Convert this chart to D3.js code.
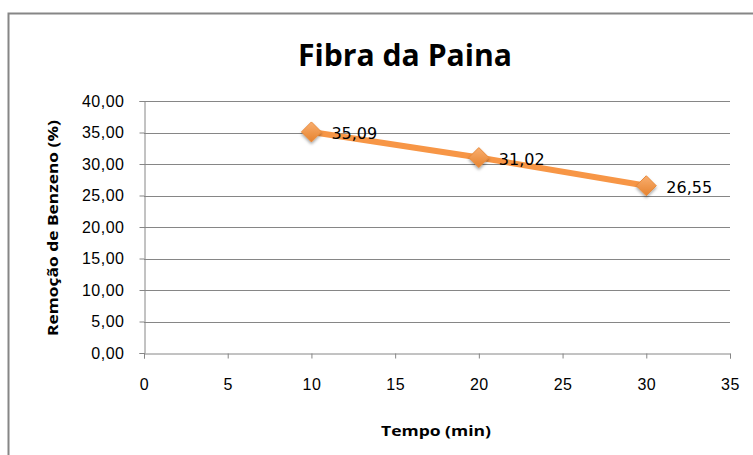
<!DOCTYPE html>
<html>
<head>
<meta charset="utf-8">
<script src="https://cdn.jsdelivr.net/npm/d3@7"></script>
<style>
  body { margin: 0; background: #fff; }
  svg { display: block; font-family: "DejaVu Sans", "Open Sans", sans-serif; }
</style>
</head>
<body>
<svg id="chart" width="753" height="455"></svg>
<script>
const tempo = [10, 20, 30];
const remocao = [35.09, 31.02, 26.55];
const xTicks = [0, 5, 10, 15, 20, 25, 30, 35];
const yTicks = [0, 5, 10, 15, 20, 25, 30, 35, 40];

const svg = d3.select('#chart');
const fmt = v => d3.format('.2f')(v).replace('.', ',');

// chart frame
svg.append('rect')
  .attr('x', 8.5).attr('y', 13.5)
  .attr('width', 760).attr('height', 460)
  .attr('fill', '#fff').attr('stroke', '#868686').attr('stroke-width', 2);

const x = d3.scaleLinear().domain([0, 35]).range([144, 730]);
const y = d3.scaleLinear().domain([0, 40]).range([353, 101]);

// gridlines
svg.append('g').selectAll('line')
  .data(yTicks.filter(d => d > 0))
  .join('line')
  .attr('x1', x(0)).attr('x2', x(35))
  .attr('y1', d => Math.round(y(d)) + 0.5).attr('y2', d => Math.round(y(d)) + 0.5)
  .attr('stroke', '#868686').attr('stroke-width', 1);

const yAxis = svg.append('g')
  .attr('transform', `translate(${x(0) + 0.5},0)`)
  .call(d3.axisLeft(y).tickValues(yTicks).tickFormat(fmt).tickSize(5).tickPadding(15));

const xAxis = svg.append('g')
  .attr('transform', `translate(0,${Math.round(y(0)) + 0.5})`)
  .call(d3.axisBottom(x).tickValues(xTicks).tickSize(5).tickPadding(20));

[yAxis, xAxis].forEach(a => {
  a.select('.domain').attr('stroke', '#868686');
  a.selectAll('.tick line').attr('stroke', '#868686');
  a.selectAll('.tick text').attr('fill', '#000')
    .style('font-size', '16px').style('letter-spacing', '0.5px');
});

// line
const pts = tempo.map((t, i) => [t, remocao[i]]);
svg.append('path')
  .datum(pts)
  .attr('fill', 'none')
  .attr('stroke', '#F79646')
  .attr('stroke-width', 6)
  .attr('d', d3.line().x(d => x(d[0])).y(d => y(d[1])));

// diamond markers
const defs = svg.append('defs');
const grad = defs.append('linearGradient').attr('id', 'mk')
  .attr('x1', 0).attr('y1', 0).attr('x2', 0).attr('y2', 1);
grad.append('stop').attr('offset', '0%').attr('stop-color', '#F9AE6F');
grad.append('stop').attr('offset', '100%').attr('stop-color', '#E6832F');
const shadow = defs.append('filter').attr('id', 'sh')
  .attr('x', '-50%').attr('y', '-50%').attr('width', '200%').attr('height', '200%');
shadow.append('feDropShadow').attr('dx', 0).attr('dy', 2).attr('stdDeviation', 1.5)
  .attr('flood-color', '#000').attr('flood-opacity', 0.35);

svg.append('g').selectAll('path')
  .data(pts)
  .join('path')
  .attr('transform', d => `translate(${x(d[0])},${y(d[1])})`)
  .attr('d', 'M0,-10L10,0L0,10L-10,0Z')
  .attr('fill', 'url(#mk)')
  .attr('filter', 'url(#sh)')
  .attr('stroke', '#E98A3A').attr('stroke-width', 1);

// data labels
svg.append('g').selectAll('text')
  .data(pts)
  .join('text')
  .attr('x', d => x(d[0]) + 20)
  .attr('y', d => y(d[1]) + 7)
  .style('font-size', '16px')
  .attr('fill', '#000')
  .text(d => fmt(d[1]));

// titles
svg.append('text')
  .attr('x', 405).attr('y', 66)
  .attr('text-anchor', 'middle')
  .style('font-family', '"Open Sans", sans-serif')
  .style('font-size', '30px').style('font-weight', 'bold')
  .attr('textLength', 214).attr('lengthAdjust', 'spacingAndGlyphs')
  .text('Fibra da Paina');

svg.append('text')
  .attr('x', 436).attr('y', 436)
  .attr('text-anchor', 'middle')
  .style('font-family', '"Open Sans", sans-serif')
  .style('font-size', '15px').style('font-weight', 'bold')
  .attr('textLength', 110).attr('lengthAdjust', 'spacingAndGlyphs')
  .text('Tempo (min)');

svg.append('text')
  .attr('transform', 'translate(58,228) rotate(-90)')
  .attr('text-anchor', 'middle')
  .style('font-family', '"Open Sans", sans-serif')
  .style('font-size', '15px').style('font-weight', 'bold')
  .attr('textLength', 216).attr('lengthAdjust', 'spacingAndGlyphs')
  .text('Remoção de Benzeno (%)');
</script>
</body>
</html>
